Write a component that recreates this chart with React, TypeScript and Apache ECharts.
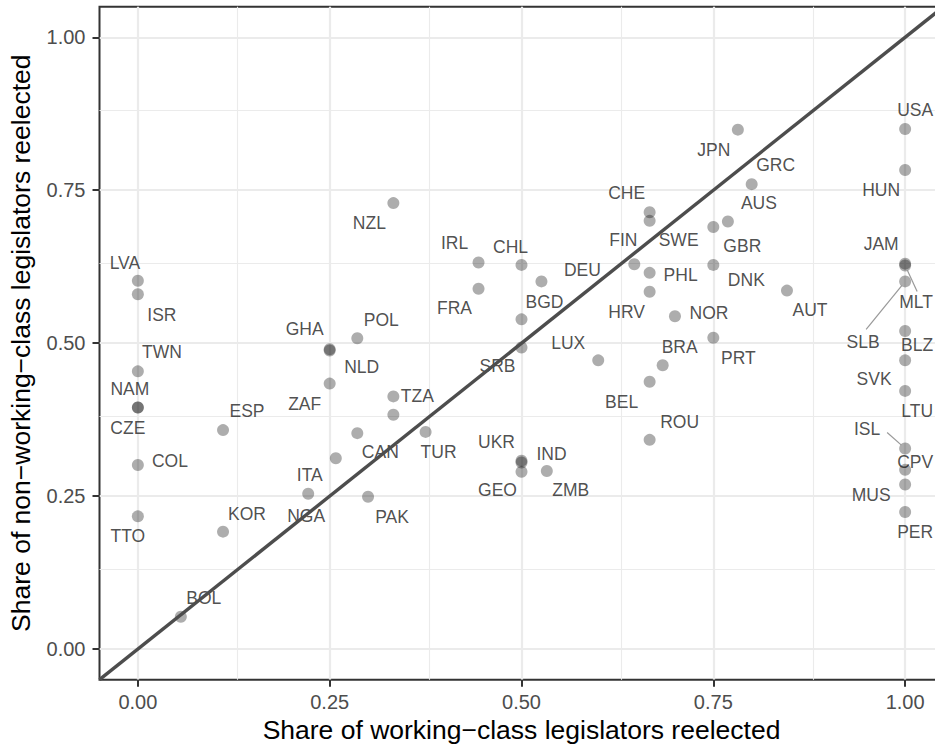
import React, { useEffect, useRef } from "react";
import * as echarts from "echarts";

// ---- data ----
const countries = [
  "LVA", "ISR", "TWN", "NAM", "CZE", "COL", "TTO",
  "BOL", "KOR", "ESP", "NGA", "ITA", "GHA", "NLD", "ZAF", "POL", "CAN", "TZA", "", "TUR", "PAK",
  "NZL", "IRL", "FRA", "CHL", "DEU", "BGD", "SRB", "LUX", "UKR", "IND", "GEO", "ZMB",
  "CHE", "SWE", "FIN", "PHL", "HRV", "GBR", "AUS", "DNK", "AUT", "NOR", "PRT", "BRA", "BEL", "ROU",
  "JPN", "GRC",
  "USA", "HUN", "JAM", "MLT", "SLB", "BLZ", "SVK", "LTU", "ISL", "CPV", "MUS", "PER",
];
const workingShare = [
  0, 0, 0, 0, 0, 0, 0,
  0.056, 0.111, 0.111, 0.222, 0.258, 0.25, 0.25, 0.25, 0.286, 0.286, 0.333, 0.333, 0.375, 0.3,
  0.333, 0.444, 0.444, 0.5, 0.526, 0.5, 0.5, 0.6, 0.5, 0.5, 0.5, 0.533,
  0.667, 0.667, 0.647, 0.667, 0.667, 0.75, 0.769, 0.75, 0.846, 0.7, 0.75, 0.684, 0.667, 0.667,
  0.782, 0.8,
  1, 1, 1, 1, 1, 1, 1, 1, 1, 1, 1, 1,
];
const nonWorkingShare = [
  0.602, 0.58, 0.454, 0.395, 0.395, 0.301, 0.217,
  0.053, 0.192, 0.358, 0.254, 0.312, 0.49, 0.488, 0.434, 0.508, 0.353, 0.413, 0.383, 0.355, 0.249,
  0.729, 0.632, 0.589, 0.628, 0.601, 0.539, 0.493, 0.472, 0.308, 0.305, 0.29, 0.291,
  0.714, 0.7, 0.629, 0.615, 0.584, 0.69, 0.699, 0.628, 0.586, 0.544, 0.509, 0.464, 0.437, 0.342,
  0.849, 0.76,
  0.85, 0.783, 0.63, 0.627, 0.601, 0.52, 0.472, 0.422, 0.328, 0.293, 0.269, 0.224,
];
const majorTicks = [0, 0.25, 0.5, 0.75, 1];
const minorTicks = [0.125, 0.375, 0.625, 0.875];
const axisMin = -0.05;
const axisMax = 1.05;

// ---- layout: label offsets in px (label centre relative to point) ----
const labelOffsets: Record<string, [number, number]> = {
  LVA: [-13, -18], ISR: [24, 21], TWN: [24, -19], NAM: [-8, -18], CZE: [-10, 21],
  COL: [32, -4], TTO: [-10, 20], BOL: [23, -19], KOR: [24, -18], ESP: [24, -19],
  NGA: [-2, 22], ITA: [-26, 17], GHA: [-25, -20], NLD: [32, 16], ZAF: [-25, 20],
  POL: [24, -18], CAN: [23, 19], TZA: [24, 0], TUR: [13, 20], PAK: [24, 20],
  NZL: [-24, 20], IRL: [-24, -19], FRA: [-24, 19], CHL: [-11, -18], DEU: [41, -11],
  BGD: [23, -17], SRB: [-24, 19], LUX: [-30, -17], UKR: [-25, -19], IND: [30, -9],
  GEO: [-24, 18], ZMB: [24, 19], CHE: [-23, -19], SWE: [29, 19], FIN: [-11, -24],
  PHL: [31, 2], HRV: [-23, 20], GBR: [29, 19], AUS: [31, -18], DNK: [33, 15],
  AUT: [23, 19], NOR: [34, -3], PRT: [25, 20], BRA: [17, -18], BEL: [-28, 20],
  ROU: [30, -18], JPN: [-24, 20], GRC: [24, -19], USA: [10, -19], HUN: [-24, 20],
  JAM: [-24, -20], MLT: [11, 37], SLB: [-42, 61], BLZ: [12, 14], SVK: [-31, 19],
  LTU: [12, 20], ISL: [-38, -19], CPV: [10, -8], MUS: [-34, 10], PER: [10, 20],
};
// leader segments (end point relative to point, px)
const segmentEnds: Record<string, [number, number]> = {
  MLT: [12, 26], SLB: [-39, 48], ISL: [-18, -16],
};

const FONT = '"Liberation Sans", Arial, Helvetica, sans-serif';

export default function App() {
  const ref = useRef<HTMLDivElement>(null);
  useEffect(() => {
    if (!ref.current) return;
    const chart = echarts.init(ref.current, undefined, { renderer: "svg" });

    const points = countries.map((c, i) => ({
      name: c,
      value: [workingShare[i], nonWorkingShare[i]],
    }));
    const labelled = countries
      .map((c, i) => ({
        name: c,
        value: [workingShare[i], nonWorkingShare[i]],
        label: { offset: labelOffsets[c] || [0, 0] },
      }))
      .filter((d) => labelOffsets[d.name]);
    const segData = points.filter((d) => segmentEnds[d.name]);

    const gridLines = [
      ...majorTicks.map((v) => ({ xAxis: v, lineStyle: { width: 2.2 } })),
      ...majorTicks.map((v) => ({ yAxis: v, lineStyle: { width: 2.2 } })),
      ...minorTicks.map((v) => ({ xAxis: v, lineStyle: { width: 1.1 } })),
      ...minorTicks.map((v) => ({ yAxis: v, lineStyle: { width: 1.1 } })),
    ];

    const axisCommon = {
      type: "value" as const,
      min: axisMin,
      max: axisMax,
      axisLine: { show: false, onZero: false },
      axisTick: {
        show: true,
        inside: false,
        customValues: majorTicks,
        length: 7,
        lineStyle: { color: "#333333", width: 2 },
      },
      splitLine: { show: false },
      minorSplitLine: { show: false },
      nameLocation: "middle" as const,
      nameTextStyle: { fontSize: 26.5, color: "#000000", fontFamily: FONT },
    };
    const tickLabel = {
      customValues: majorTicks,
      formatter: (v: number) => v.toFixed(2),
      color: "#4d4d4d",
      fontSize: 20,
      fontFamily: FONT,
    };

    chart.setOption({
      animation: false,
      backgroundColor: "#ffffff",
      textStyle: { fontFamily: FONT },
      grid: {
        left: 99.5,
        top: 6.7,
        width: 844,
        height: 673,
        show: true,
        borderColor: "#333333",
        borderWidth: 2,
        backgroundColor: "transparent",
        containLabel: false,
        outerBoundsMode: "none",
      },
      xAxis: {
        ...axisCommon,
        position: "bottom",
        name: "Share of working\u2212class legislators reelected",
        nameGap: 35,
        axisLabel: { ...tickLabel, margin: 12 },
      },
      yAxis: {
        ...axisCommon,
        position: "left",
        name: "Share of non\u2212working\u2212class legislators reelected",
        nameGap: 65,
        axisLabel: { ...tickLabel, margin: 14 },
      },
      series: [
        {
          type: "line",
          data: [],
          z: 0,
          silent: true,
          markLine: {
            silent: true,
            z: 0,
            zlevel: 0,
            symbol: ["none", "none"],
            label: { show: false },
            lineStyle: { color: "#ebebeb", type: "solid", width: 2 },
            emphasis: { disabled: true },
            data: gridLines,
          },
        },
        {
          type: "scatter",
          data: points,
          symbol: "circle",
          symbolSize: 12,
          z: 2,
          itemStyle: { color: "rgba(0,0,0,0.4)" },
          label: { show: false },
          emphasis: { disabled: true },
        },
        {
          type: "scatter",
          data: labelled,
          symbol: "circle",
          symbolSize: 1,
          z: 4,
          silent: true,
          itemStyle: { color: "rgba(0,0,0,0)" },
          label: {
            show: true,
            position: "inside",
            formatter: "{b}",
            fontSize: 17.5,
            color: "#222222",
            fontFamily: FONT,
            textBorderWidth: 0,
            align: "center",
            verticalAlign: "middle",
          },
          emphasis: { disabled: true },
        },
        {
          type: "custom",
          z: 3,
          silent: true,
          data: segData,
          renderItem: (params: any, api: any) => {
            const name = segData[params.dataIndex].name;
            const end = segmentEnds[name];
            const p = api.coord([api.value(0), api.value(1)]);
            const len = Math.hypot(end[0], end[1]);
            const sx = p[0] + (end[0] / len) * 5;
            const sy = p[1] + (end[1] / len) * 5;
            return {
              type: "line",
              shape: { x1: sx, y1: sy, x2: p[0] + end[0], y2: p[1] + end[1] },
              style: { stroke: "#999999", lineWidth: 1.2 },
            };
          },
        },
        {
          type: "line",
          data: [
            [axisMin, axisMin],
            [axisMax, axisMax],
          ],
          symbol: "none",
          z: 10,
          silent: true,
          lineStyle: { color: "#4d4d4d", width: 3.4 },
        },
      ],
    });

    return () => chart.dispose();
  }, []);

  return (
    <div
      ref={ref}
      style={{ position: "fixed", left: 0, top: 0, width: 935, height: 748, background: "#fff" }}
    />
  );
}
